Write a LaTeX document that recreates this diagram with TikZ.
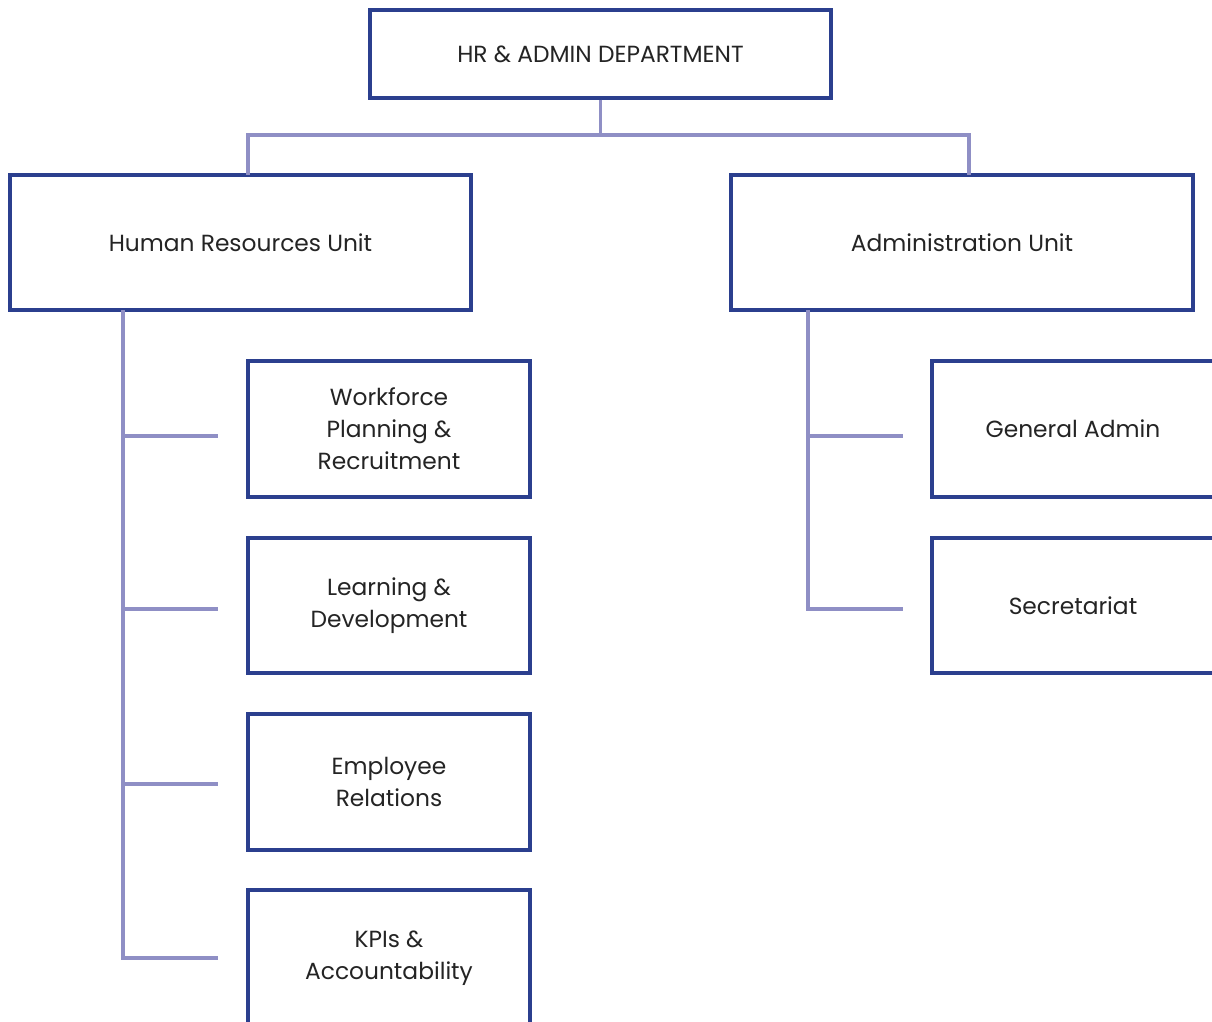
\documentclass[tikz,border=0pt]{standalone}
\usepackage{fontspec}
\setmainfont{Poppins}
\definecolor{boxblue}{HTML}{2B3F8E}
\definecolor{linkline}{HTML}{8F8FC5}
\definecolor{ink}{HTML}{242424}
\begin{document}
\begin{tikzpicture}[x=0.75pt,y=-0.75pt,
  unitbox/.style={draw=boxblue,line width=2.3pt,fill=white,text=ink,align=center,
    inner sep=0pt,font=\fontsize{17.5}{24}\selectfont},
  link/.style={draw=linkline,line width=2.3pt}]
  \useasboundingbox (0,0) rectangle (1212,1021);
  \begin{scope}
  \clip (0,0) rectangle (1212,1021);

  % department and units
  \node[unitbox,minimum width=345.75pt,minimum height=66pt] (dept) at (600.5,54) {HR \& ADMIN DEPARTMENT};
  \node[unitbox,minimum width=345.75pt,minimum height=101.25pt] (hr) at (240.5,242.5) {Human Resources Unit};
  \node[unitbox,minimum width=346.5pt,minimum height=101.25pt] (adm) at (962,242.5) {Administration Unit};

  % human resources sections
  \node[unitbox,minimum width=211.5pt,minimum height=102pt] (wpr) at (389,429) {Workforce\\Planning \&\\Recruitment};
  \node[unitbox,minimum width=211.5pt,minimum height=101.25pt] (ld) at (389,605.5) {Learning \&\\Development};
  \node[unitbox,minimum width=211.5pt,minimum height=102pt] (er) at (389,782) {Employee\\Relations};
  \node[unitbox,minimum width=211.5pt,minimum height=102pt] (kpi) at (389,958) {KPIs \&\\Accountability};

  % administration sections
  \node[unitbox,minimum width=211.5pt,minimum height=102pt] (ga) at (1073,429) {General Admin};
  \node[unitbox,minimum width=211.5pt,minimum height=101.25pt] (sec) at (1073,605.5) {Secretariat};

  % top-level bus
  \coordinate (bus) at (600.5,135);
  \coordinate (hrin) at (248,175);
  \coordinate (admin) at (969,175);
  \draw[link] (dept.south) -- (bus);
  \draw[link] (bus) -| (hrin);
  \draw[link] (bus) -| (admin);

  % human resources spine and branches
  \coordinate (hrtop) at (123,310);
  \coordinate (hb1) at (218,436);
  \coordinate (hb2) at (218,609);
  \coordinate (hb3) at (218,784);
  \coordinate (hb4) at (218,958);
  \draw[link] (hrtop) |- (hb4);
  \draw[link] (hrtop |- hb1) -- (hb1);
  \draw[link] (hrtop |- hb2) -- (hb2);
  \draw[link] (hrtop |- hb3) -- (hb3);

  % administration spine and branches
  \coordinate (admtop) at (808,310);
  \coordinate (ab1) at (903,436);
  \coordinate (ab2) at (903,609);
  \draw[link] (admtop) |- (ab2);
  \draw[link] (admtop |- ab1) -- (ab1);
  \end{scope}
\end{tikzpicture}
\end{document}
